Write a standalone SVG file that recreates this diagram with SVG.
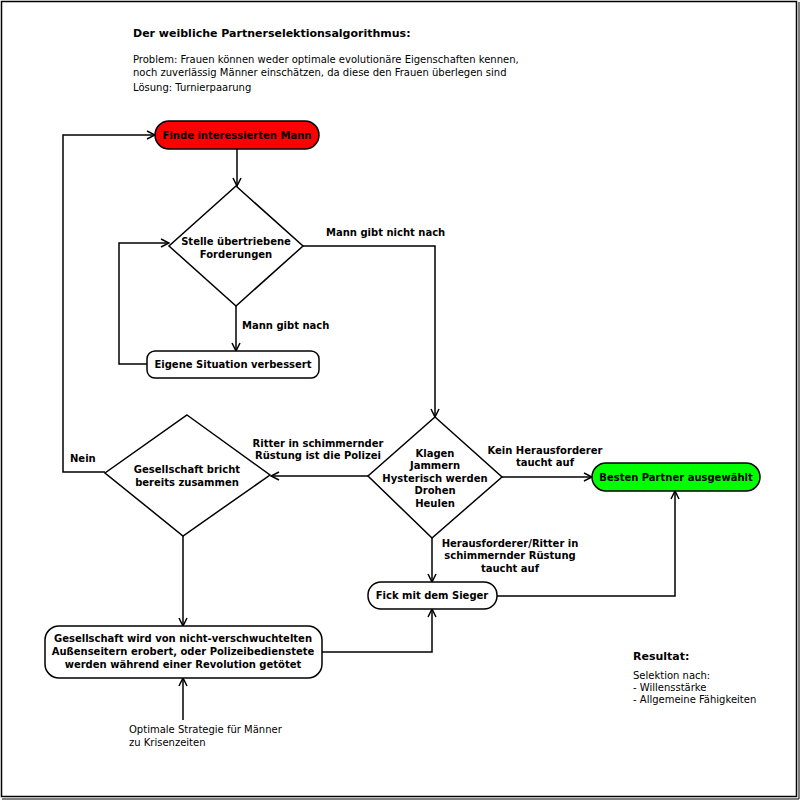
<svg xmlns="http://www.w3.org/2000/svg" width="800" height="800" viewBox="0 0 800 800">
<style>
.t{font-family:"DejaVu Sans",sans-serif;font-size:10px;fill:#000}
.b{font-family:"DejaVu Sans",sans-serif;font-size:10px;font-weight:bold;fill:#000}
.h{font-size:11px}
.c{text-anchor:middle}
.n{stroke:#000;stroke-width:1.5}
.e{fill:none;stroke:#000;stroke-width:1.5}
</style>
<defs>
<marker id="a" viewBox="0 0 10 10" refX="9" refY="5" markerWidth="10" markerHeight="10" markerUnits="userSpaceOnUse" orient="auto">
<path d="M1,1 L9,5 L1,9" fill="none" stroke="#000" stroke-width="1.5"/>
</marker>
</defs>
<rect x="0" y="0" width="800" height="800" fill="#fff"/>
<rect x="1.5" y="1.5" width="795" height="795" fill="none" stroke="#000" stroke-width="1.5"/>
<line x1="799" y1="2" x2="799" y2="799" stroke="#000" stroke-width="1"/>
<line x1="2" y1="799" x2="799" y2="799" stroke="#000" stroke-width="1"/>

<g id="header">
<text class="b h" x="133" y="37">Der weibliche Partnerselektionsalgorithmus:</text>
<text class="t" x="133" y="63">Problem: Frauen können weder optimale evolutionäre Eigenschaften kennen,</text>
<text class="t" x="133" y="76">noch zuverlässig Männer einschätzen, da diese den Frauen überlegen sind</text>
<text class="t" x="133" y="91">Lösung: Turnierpaarung</text>
</g>

<g id="connectors">
<path class="e" d="M237,149 L237,186" marker-end="url(#a)"/>
<path class="e" d="M236,306 L236,351" marker-end="url(#a)"/>
<path class="e" d="M147,364 L119,364 L119,243 L169,243" marker-end="url(#a)"/>
<path class="e" d="M303,246 L435,246 L435,417" marker-end="url(#a)"/>
<path class="e" d="M502,477 L592,477" marker-end="url(#a)"/>
<path class="e" d="M368,476 L271,476" marker-end="url(#a)"/>
<path class="e" d="M432,538 L432,582" marker-end="url(#a)"/>
<path class="e" d="M105,472 L63,472 L63,135 L155,135" marker-end="url(#a)"/>
<path class="e" d="M183,536 L183,626" marker-end="url(#a)"/>
<path class="e" d="M183,720 L183,678" marker-end="url(#a)"/>
<path class="e" d="M322,652 L432,652 L432,609" marker-end="url(#a)"/>
<path class="e" d="M497,596 L675,596 L675,491" marker-end="url(#a)"/>
<text class="b" x="326" y="236">Mann gibt nicht nach</text>
<text class="b" x="242" y="329">Mann gibt nach</text>
<text class="b c" x="545" y="454">Kein Herausforderer</text>
<text class="b c" x="545" y="466">taucht auf</text>
<text class="b c" x="318" y="447">Ritter in schimmernder</text>
<text class="b c" x="318" y="459">Rüstung ist die Polizei</text>
<text class="b" x="70" y="462">Nein</text>
<text class="b c" x="510" y="547">Herausforderer/Ritter in</text>
<text class="b c" x="510" y="559">schimmernder Rüstung</text>
<text class="b c" x="510" y="572">taucht auf</text>
<text class="t" x="129" y="733">Optimale Strategie für Männer</text>
<text class="t" x="129" y="746">zu Krisenzeiten</text>
</g>

<g id="start">
<rect class="n" x="155" y="121" width="164" height="28" rx="14" fill="#ff0000"/>
<text class="b c" x="237" y="139">Finde interessierten Mann</text>
</g>
<g id="forderungen">
<polygon class="n" points="236,186 303,246 236,306 169,246" fill="#fff"/>
<text class="b c" x="236" y="245">Stelle übertriebene</text>
<text class="b c" x="236" y="258">Forderungen</text>
</g>
<g id="eigene">
<rect class="n" x="147" y="351" width="172" height="27" rx="8" fill="#fff"/>
<text class="b c" x="233" y="368">Eigene Situation verbessert</text>
</g>
<g id="klagen">
<polygon class="n" points="435,417 502,477 432,538 368,476" fill="#fff"/>
<text class="b c" x="435" y="457">Klagen</text>
<text class="b c" x="435" y="469">Jammern</text>
<text class="b c" x="435" y="482">Hysterisch werden</text>
<text class="b c" x="435" y="494">Drohen</text>
<text class="b c" x="435" y="507">Heulen</text>
</g>
<g id="gesellschaft">
<polygon class="n" points="187,415 270,475 183,536 105,473" fill="#fff"/>
<text class="b c" x="187" y="473">Gesellschaft bricht</text>
<text class="b c" x="187" y="486">bereits zusammen</text>
</g>
<g id="besten">
<rect class="n" x="592" y="463" width="168" height="28" rx="14" fill="#00ff00"/>
<text class="b c" x="676" y="481">Besten Partner ausgewählt</text>
</g>
<g id="revolution">
<rect class="n" x="45" y="626" width="277" height="52" rx="14" fill="#fff"/>
<text class="b c" x="183" y="642">Gesellschaft wird von nicht-verschwuchtelten</text>
<text class="b c" x="183" y="655">Außenseitern erobert, oder Polizeibedienstete</text>
<text class="b c" x="183" y="668">werden während einer Revolution getötet</text>
</g>
<g id="fick">
<rect class="n" x="368" y="582" width="129" height="27" rx="13" fill="#fff"/>
<text class="b c" x="432" y="599">Fick mit dem Sieger</text>
</g>
<g id="resultat">
<text class="b h" x="633" y="660">Resultat:</text>
<text class="t" x="633" y="679">Selektion nach:</text>
<text class="t" x="633" y="691">- Willensstärke</text>
<text class="t" x="633" y="703">- Allgemeine Fähigkeiten</text>
</g>
</svg>
